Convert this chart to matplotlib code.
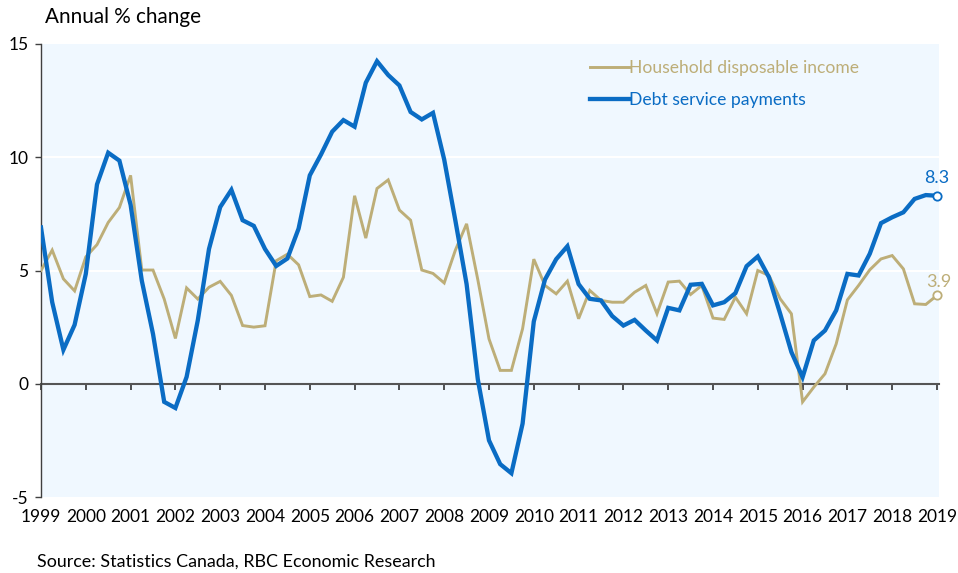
import matplotlib
matplotlib.use("Agg")
import matplotlib.pyplot as plt
import numpy as np

plt.rcParams['font.family'] = ['Lato', 'DejaVu Sans']

years = list(range(1999, 2020))
income = [5.0, 5.9, 4.63, 4.1, 5.6, 6.14, 7.12, 7.78, 9.2, 5.02, 5.02, 3.74, 2.0, 4.23, 3.74, 4.26,
          4.52, 3.9, 2.57, 2.5, 2.56, 5.43, 5.72, 5.25, 3.85, 3.92, 3.64, 4.7, 8.3, 6.43, 8.62, 9.0,
          7.67, 7.22, 5.02, 4.87, 4.45, 5.9, 7.06, 4.6, 1.98, 0.59, 0.59, 2.43, 5.5, 4.34, 3.97, 4.53,
          2.87, 4.12, 3.68, 3.6, 3.6, 4.04, 4.34, 3.09, 4.49, 4.53, 3.94, 4.34, 2.9, 2.84, 3.82, 3.09,
          5.0, 4.78, 3.75, 3.09, -0.8, -0.15, 0.44, 1.76, 3.7, 4.34, 5.03, 5.51, 5.66, 5.07, 3.53, 3.5,
          3.9]
debt = [6.9, 3.6, 1.5, 2.6, 4.85, 8.8, 10.2, 9.85, 7.9, 4.55, 2.2, -0.8, -1.07, 0.3, 2.8, 5.95,
        7.8, 8.56, 7.22, 6.97, 5.95, 5.2, 5.53, 6.85, 9.2, 10.12, 11.13, 11.64, 11.35, 13.29, 14.24, 13.63,
        13.17, 12.0, 11.67, 11.96, 9.9, 7.2, 4.4, 0.2, -2.5, -3.55, -3.95, -1.76, 2.75, 4.6, 5.5, 6.07,
        4.4, 3.75, 3.68, 2.99, 2.57, 2.82, 2.35, 1.91, 3.35, 3.24, 4.37, 4.41, 3.46, 3.6, 4.0, 5.19,
        5.62, 4.7, 3.09, 1.4, 0.29, 1.91, 2.35, 3.24, 4.85, 4.78, 5.74, 7.09, 7.35, 7.57, 8.16, 8.33,
        8.3]
series_names = ["Household disposable income", "Debt service payments"]
y_ticks = [-5, 0, 5, 10, 15]

TAN = "#BDAE78"
BLUE = "#0A6CC4"
BG = "#F0F8FF"

fig = plt.figure(figsize=(9.58, 5.73), dpi=100)
ax = fig.add_axes([41/958, 1-497/573, (939-41)/958, (497-44)/573])
ax.set_facecolor(BG)

x = np.arange(len(income))
ax.set_xlim(0, 80.18)
ax.set_ylim(-5, 15)

for v in [5, 10]:
    ax.axhline(v, color="white", lw=1.5, zorder=1)

l1, = ax.plot(x, income, color=TAN, lw=2.1, zorder=3, solid_joinstyle='miter')
l2, = ax.plot(x, debt, color=BLUE, lw=3.1, zorder=4, solid_joinstyle='miter')

ax.plot(x[-1], income[-1], 'o', ms=6, mfc='white', mec=TAN, mew=1.3, zorder=5, clip_on=False)
ax.plot(x[-1], debt[-1], 'o', ms=6, mfc='white', mec=BLUE, mew=1.3, zorder=5, clip_on=False)
ax.annotate(f"{debt[-1]:.1f}", (x[-1], debt[-1]), xytext=(0, 7), textcoords='offset points',
            ha='center', va='bottom', color=BLUE, fontsize=13, annotation_clip=False)
ax.annotate(f"{income[-1]:.1f}", (x[-1], income[-1]), xytext=(1, 4), textcoords='offset points',
            ha='center', va='bottom', color=TAN, fontsize=13, annotation_clip=False)

# spines
for s in ['top', 'right']:
    ax.spines[s].set_visible(False)
ax.spines['left'].set_color('#404040')
ax.spines['left'].set_linewidth(1.0)
ax.spines['bottom'].set_position(('data', 0))
ax.spines['bottom'].set_color('#555555')
ax.spines['bottom'].set_linewidth(1.5)
ax.spines['bottom'].set_zorder(2)

ax.set_yticks(y_ticks)
ax.set_yticklabels([str(v) for v in y_ticks])
ax.tick_params(axis='y', direction='out', length=4, width=1, color='#404040',
               labelsize=12.5, pad=5, labelcolor='black')

tick_pos = x[::4]
ax.set_xticks(tick_pos)
ax.tick_params(axis='x', direction='out', length=4, width=1.2, color='#333333', labelbottom=False)

sec = ax.secondary_xaxis('bottom')
sec.set_xticks(tick_pos)
sec.set_xticklabels([str(y) for y in years])
sec.tick_params(axis='x', length=0, labelsize=12.5, pad=9)
sec.spines['bottom'].set_visible(False)

leg = fig.legend([l1, l2], series_names, loc='upper left',
                 bbox_to_anchor=(590/958, 1-60/573), frameon=False, borderpad=0,
                 borderaxespad=0, handlelength=2.2, handletextpad=0.05, labelspacing=0.9,
                 fontsize=12.6)
for t, c in zip(leg.get_texts(), [TAN, BLUE]):
    t.set_color(c)

fig.text(45/958, 1-17/573, "Annual % change", fontsize=14.9, va='center', ha='left')
fig.text(37/958, 1-562/573, "Source: Statistics Canada, RBC Economic Research",
         fontsize=12.9, va='center', ha='left')

fig.savefig("out.png", dpi=100)
